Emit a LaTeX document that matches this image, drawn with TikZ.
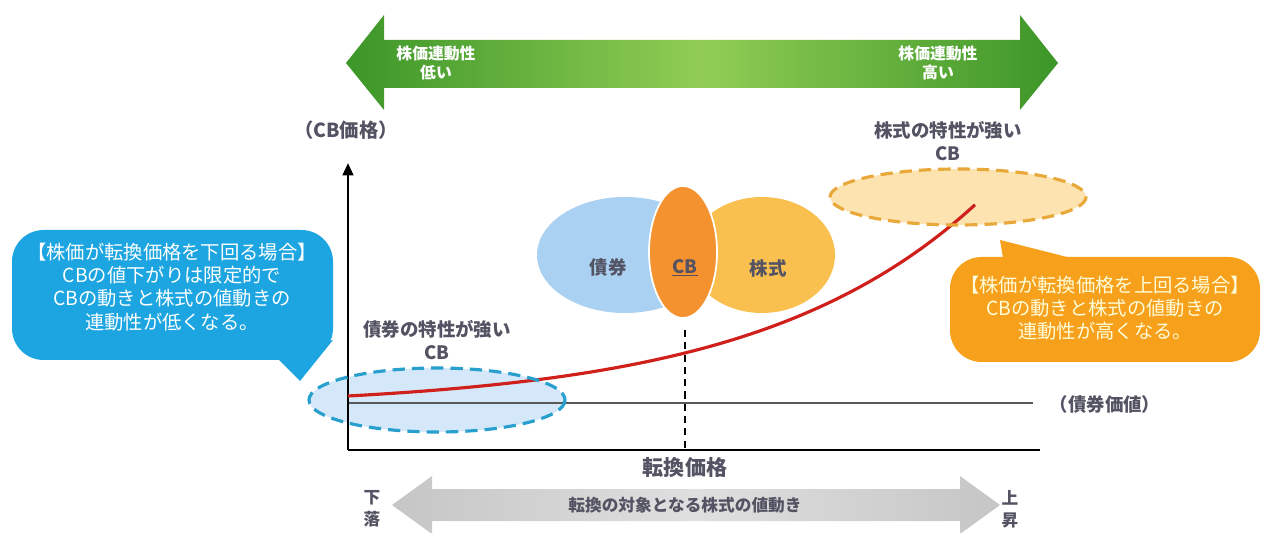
\documentclass[tikz,border=0pt]{standalone}
\usepackage{fontspec}
\setmainfont{Noto Sans CJK JP}
\usepackage{tikz}
\usetikzlibrary{arrows.meta}

\definecolor{arrowgreen}{RGB}{60,150,40}
\definecolor{arrowlight}{RGB}{145,205,85}
\definecolor{calloutblue}{RGB}{28,165,225}
\definecolor{calloutorange}{RGB}{246,160,28}
\definecolor{bondblue}{RGB}{170,208,242}
\definecolor{stockyellow}{RGB}{249,192,80}
\definecolor{cborange}{RGB}{245,146,48}
\definecolor{dashblue}{RGB}{40,160,205}
\definecolor{dashorange}{RGB}{232,168,58}
\definecolor{curvered}{RGB}{208,32,28}
\definecolor{textdark}{RGB}{40,40,60}

\begin{document}
\begin{tikzpicture}[
  x=0.02cm, y=-0.02cm,
  label/.style={inner sep=0pt, align=center, font=\bfseries\fontsize{10}{12}\selectfont, text=textdark!80},
  calloutlabel/.style={inner sep=0pt, align=center, font=\fontsize{11}{13.2}\selectfont},
  arrowlabel/.style={inner sep=0pt, align=center, text=white, font=\bfseries\fontsize{9}{11}\selectfont},
  zone/.style={dashed, line width=1.8pt, dash pattern=on 7pt off 4pt}
]
\useasboundingbox (0,0) rectangle (1264,533);

% green arrow on top
\shade[left color=arrowgreen, right color=arrowgreen, middle color=arrowlight]
  (346,63) -- (384,15) -- (384,40) -- (1020,40) -- (1020,15) -- (1058,63)
  -- (1020,110) -- (1020,88) -- (384,88) -- (384,110) -- cycle;
\node[arrowlabel] (lowlink) at (436,63) {株価連動性\\低い};
\node[arrowlabel] (highlink) at (938,63) {株価連動性\\高い};

% gray arrow at the bottom
\shade[left color=gray!45, right color=gray!45, middle color=gray!25]
  (392,505) -- (432,476) -- (432,489) -- (960,489) -- (960,476) -- (1000,505)
  -- (960,534) -- (960,521) -- (432,521) -- (432,534) -- cycle;
\node[label, font=\bfseries\fontsize{9.5}{11}\selectfont] (move) at (685,505) {転換の対象となる株式の値動き};
\node[label, font=\bfseries\fontsize{9.5}{12.5}\selectfont] (down) at (372,509) {下\\落};
\node[label, font=\bfseries\fontsize{9.5}{12.5}\selectfont] (up) at (1010,509) {上\\昇};

% zones
\fill[bondblue!50] (437,400) ellipse [x radius=128, y radius=32];
\fill[stockyellow!45] (958,197) ellipse [x radius=128, y radius=28];

% axes
\coordinate (O) at (348,450);
\coordinate (ytop) at (348,163);
\coordinate (xend) at (1040,450);
\coordinate (bondL) at (348,403);
\coordinate (bondR) at (1033,403);
\coordinate (strikeT) at (685,330);
\coordinate (strikeB) at (685,450);
\draw[gray!70!black, line width=0.6pt] (bondL) -- (bondR);
\draw[black, line width=0.8pt, dash pattern=on 4pt off 3pt] (strikeT) -- (strikeB);
\draw[black, line width=1.4pt, -{Triangle[length=7pt, width=6pt]}] (O) -- (ytop);
\draw[black, line width=1.4pt] (O) -- (xend);

% CB price curve
\draw[curvered, line width=1.8pt]
  plot[domain=348:975, samples=60] (\x, {396-12.09*(exp(0.0045*(\x-348))-1)});

% dashed borders
\draw[zone, dashblue] (437,400) ellipse [x radius=128, y radius=32];
\draw[zone, dashorange] (958,197) ellipse [x radius=128, y radius=28];

% axis texts
\node[label, font=\bfseries\fontsize{11}{13}\selectfont] (price) at (346,130) {（CB価格）};
\node[label, font=\bfseries\fontsize{10.5}{12}\selectfont] (bondval) at (1105,404) {（債券価値）};
\node[label, font=\bfseries\fontsize{12}{14}\selectfont] (strike) at (685,467) {転換価格};
\node[label, font=\bfseries\fontsize{10.5}{13}\selectfont] (bondcb) at (437,340) {債券の特性が強い\\CB};
\node[label, font=\bfseries\fontsize{10.5}{13}\selectfont] (stockcb) at (948,141) {株式の特性が強い\\CB};

% venn
\fill[bondblue] (625,255) ellipse [x radius=88, y radius=58];
\fill[stockyellow] (762,255) ellipse [x radius=73, y radius=58];
\filldraw[cborange, draw=white, line width=1pt] (683,252) ellipse [x radius=34, y radius=66];
\node[label, font=\bfseries\fontsize{10.5}{12}\selectfont] (bond) at (608,268) {債券};
\node[label, font=\bfseries\fontsize{10.5}{12}\selectfont] (cb) at (685,268) {\underline{CB}};
\node[label, font=\bfseries\fontsize{10.5}{12}\selectfont] (stock) at (768,268) {株式};

% callouts
\fill[calloutblue, rounded corners=18] (12,230) rectangle (333,360);
\fill[calloutblue] (275,356) -- (300,381) -- (333,340) -- cycle;
\node[calloutlabel, text=white] (lowcase) at (172,287)
  {【株価が転換価格を下回る場合】\\CBの値下がりは限定的で\\CBの動きと株式の値動きの\\連動性が低くなる。};
\fill[calloutorange, rounded corners=18] (950,257) rectangle (1260,362);
\fill[calloutorange] (1000,240) -- (1005,270) -- (1075,259) -- cycle;
\node[calloutlabel, text=yellow!15] (highcase) at (1105,308)
  {【株価が転換価格を上回る場合】\\CBの動きと株式の値動きの\\連動性が高くなる。};
\end{tikzpicture}
\end{document}
